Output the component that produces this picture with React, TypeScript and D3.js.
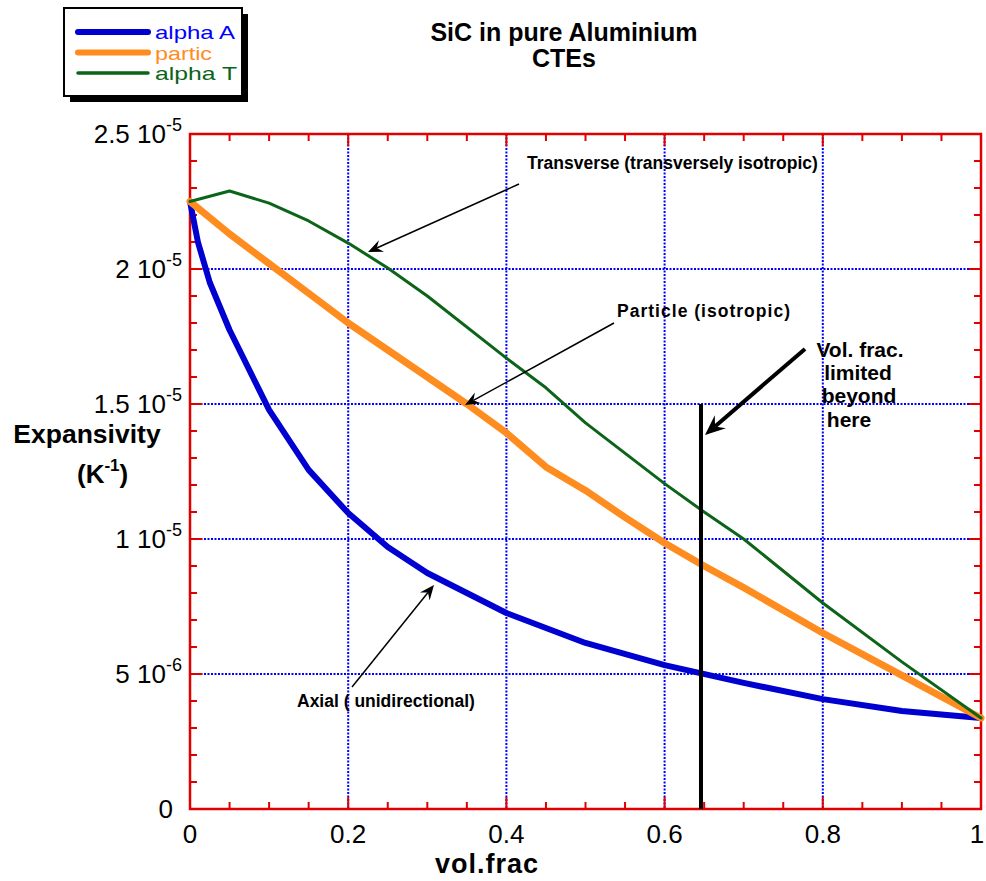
import React from "react";
import * as d3 from "d3";

const xsA = [0, 0.01, 0.025, 0.05, 0.1, 0.15, 0.2, 0.25, 0.3, 0.4, 0.5, 0.6, 0.7, 0.8, 0.9, 1];
const alphaA = [2.25, 2.1, 1.95, 1.774, 1.478, 1.256, 1.096, 0.97, 0.874, 0.726, 0.615, 0.533, 0.467, 0.407, 0.363, 0.337];
const xsP = [0, 0.05, 0.1, 0.15, 0.2, 0.25, 0.3, 0.35, 0.4, 0.45, 0.5, 0.55, 0.6, 0.65, 0.7, 0.8, 0.9, 1];
const partic = [2.25, 2.13, 2.02, 1.91, 1.8, 1.7, 1.6, 1.5, 1.393, 1.267, 1.18, 1.08, 0.985, 0.9, 0.82, 0.652, 0.495, 0.337];
const xsT = [0, 0.05, 0.1, 0.15, 0.2, 0.25, 0.3, 0.4, 0.45, 0.5, 0.6, 0.65, 0.7, 0.8, 0.9, 1];
const alphaT = [2.25, 2.289, 2.244, 2.178, 2.096, 2.004, 1.9, 1.67, 1.56, 1.43, 1.205, 1.1, 1.0, 0.763, 0.545, 0.337];

const xTicks = [0, 0.2, 0.4, 0.6, 0.8, 1];
const xTickLabels = ["0", "0.2", "0.4", "0.6", "0.8", "1"];
const yTicks = [0, 0.5, 1, 1.5, 2, 2.5];
const yTickMant = ["0", "5", "1", "1.5", "2", "2.5"];
const yTickExp = ["", "-6", "-5", "-5", "-5", "-5"];

const seriesNames = ["alpha A", "partic", "alpha T"];
const seriesColors = ["#0000d0", "#ff8c1e", "#0b6418"];
const seriesWidths = [6, 7, 3];

const limitX = 0.646;
const limitTop = 1.5;

const FONT = "'Liberation Sans', Arial, sans-serif";

export default function App() {
  const L = 190, R = 981, T = 134, B = 809;
  const x = d3.scaleLinear().domain([0, 1]).range([L, R]);
  const y = d3.scaleLinear().domain([0, 2.5]).range([B, T]);
  const line = d3.line<[number, number]>().x(d => x(d[0])).y(d => y(d[1]));

  const series = [
    xsA.map((v, i) => [v, alphaA[i]] as [number, number]),
    xsP.map((v, i) => [v, partic[i]] as [number, number]),
    xsT.map((v, i) => [v, alphaT[i]] as [number, number]),
  ];

  const xMinor = d3.range(0, 1.0001, 0.05);
  const yMinor = d3.range(0, 2.5001, 0.1);
  const isMajX = (v: number) => Math.abs(v * 5 - Math.round(v * 5)) < 1e-6;
  const isMajY = (v: number) => Math.abs(v * 2 - Math.round(v * 2)) < 1e-6;
  const legendWidths = [80, 57, 82];

  const arrow = (x1: number, y1: number, x2: number, y2: number, w: number, size: number, key: string) => {
    const ang = Math.atan2(y2 - y1, x2 - x1);
    const back = (a: number, l: number) => [x2 - l * Math.cos(ang + a), y2 - l * Math.sin(ang + a)];
    const p1 = back(0.4, size);
    const p2 = back(0, size * 0.6);
    const p3 = back(-0.4, size);
    return (
      <g key={key}>
        <line x1={x1} y1={y1} x2={p2[0]} y2={p2[1]} stroke="#000" strokeWidth={w} />
        <path d={`M${x2},${y2}L${p1[0]},${p1[1]}L${p2[0]},${p2[1]}L${p3[0]},${p3[1]}Z`} fill="#000" />
      </g>
    );
  };

  return (
    <svg width={986} height={881} style={{ position: "absolute", left: 0, top: 0, background: "#fff" }} fontFamily={FONT}>
      <rect x={0} y={0} width={986} height={881} fill="#fff" />
      {/* grid */}
      {xTicks.map(v => (
        <line key={"gx" + v} x1={x(v)} x2={x(v)} y1={T} y2={B} stroke="#0000ff" strokeWidth={2} strokeDasharray="2,1.5" />
      ))}
      {yTicks.map(v => (
        <line key={"gy" + v} x1={L} x2={R} y1={y(v)} y2={y(v)} stroke="#0000ff" strokeWidth={2} strokeDasharray="2,1.5" />
      ))}
      {/* frame */}
      <rect x={L} y={T} width={R - L} height={B - T} fill="none" stroke="#e00000" strokeWidth={2.5} />
      {/* ticks */}
      {xMinor.map(v => {
        const len = isMajX(v) ? 12 : 7;
        return (
          <g key={"tx" + v}>
            <line x1={x(v)} x2={x(v)} y1={B} y2={B - len} stroke="#e00000" strokeWidth={2} />
            <line x1={x(v)} x2={x(v)} y1={T} y2={T + len} stroke="#e00000" strokeWidth={2} />
          </g>
        );
      })}
      {yMinor.map(v => {
        const len = isMajY(v) ? 12 : 7;
        return (
          <g key={"ty" + v}>
            <line x1={L} x2={L + len} y1={y(v)} y2={y(v)} stroke="#e00000" strokeWidth={2} />
            <line x1={R} x2={R - len} y1={y(v)} y2={y(v)} stroke="#e00000" strokeWidth={2} />
          </g>
        );
      })}
      {/* series */}
      {series.map((s, i) => (
        <path key={"s" + i} d={line(s) || ""} fill="none" stroke={seriesColors[i]} strokeWidth={seriesWidths[i]} strokeLinejoin="round" strokeLinecap="round" />
      ))}
      {/* limit line */}
      <line x1={x(limitX)} x2={x(limitX)} y1={y(0)} y2={y(limitTop)} stroke="#000" strokeWidth={4} />
      {/* x tick labels */}
      {xTicks.map((v, i) => (
        <text key={"xl" + v} x={Math.min(x(v), 977)} y={843} textAnchor="middle" fontSize={26} fill="#000">{xTickLabels[i]}</text>
      ))}
      {/* y tick labels */}
      {yTicks.map((v, i) => (
        <text key={"yl" + v} x={yTickExp[i] ? 182 : 173} y={y(v) + 9} textAnchor="end" fontSize={26} fill="#000">
          {yTickMant[i]}{yTickExp[i] ? " 10" : ""}
          {yTickExp[i] ? <tspan fontSize={18} dy={-12}>{yTickExp[i]}</tspan> : null}
        </text>
      ))}
      {/* axis titles */}
      <text x={487} y={873} textAnchor="middle" fontSize={27} fontWeight="bold" letterSpacing={1}>vol.frac</text>
      <text x={87} y={443} textAnchor="middle" fontSize={26.5} fontWeight="bold">Expansivity</text>
      <text x={77} y={483} fontSize={26} fontWeight="bold">(K<tspan fontSize={17} dy={-12}>-1</tspan><tspan dy={12}>)</tspan></text>
      {/* title */}
      <text x={564} y={41} textAnchor="middle" fontSize={25} fontWeight="bold">SiC in pure Aluminium</text>
      <text x={564} y={67} textAnchor="middle" fontSize={25} fontWeight="bold">CTEs</text>
      {/* annotations */}
      <text x={527} y={169} fontSize={17.5} fontWeight="bold">Transverse (transversely isotropic)</text>
      {arrow(519, 184, 368, 252, 1.5, 16, "a1")}
      <text x={617} y={317} fontSize={17.5} fontWeight="bold" textLength={173}>Particle (isotropic)</text>
      {arrow(614, 323, 465, 405, 1.5, 16, "a2")}
      <text x={297} y={707} fontSize={17.5} fontWeight="bold">Axial ( unidirectional)</text>
      {arrow(352, 687, 434, 585, 1.5, 16, "a3")}
      {arrow(805, 349, 705, 435, 4, 22, "a4")}
      <g fontSize={21} fontWeight="bold" textAnchor="middle">
        <text x={860} y={357}>Vol. frac.</text>
        <text x={858} y={380}>limited</text>
        <text x={859} y={403}>beyond</text>
        <text x={849} y={427}>here</text>
      </g>
      {/* legend */}
      <rect x={70} y={14} width={178} height={88} fill="#000" />
      <rect x={64} y={8} width={178} height={88} fill="#fff" stroke="#000" strokeWidth={2} />
      {seriesNames.map((n, i) => (
        <g key={"lg" + i}>
          <line x1={78} x2={148} y1={32 + i * 20.5} y2={32 + i * 20.5} stroke={seriesColors[i]} strokeWidth={seriesWidths[i] === 3 ? 3.5 : 6} strokeLinecap="round" />
          <text x={155} y={39 + i * 20.5} fontSize={19} textLength={legendWidths[i]} lengthAdjust="spacingAndGlyphs" fill={i === 0 ? "#0000ff" : seriesColors[i]}>{n}</text>
        </g>
      ))}
    </svg>
  );
}
